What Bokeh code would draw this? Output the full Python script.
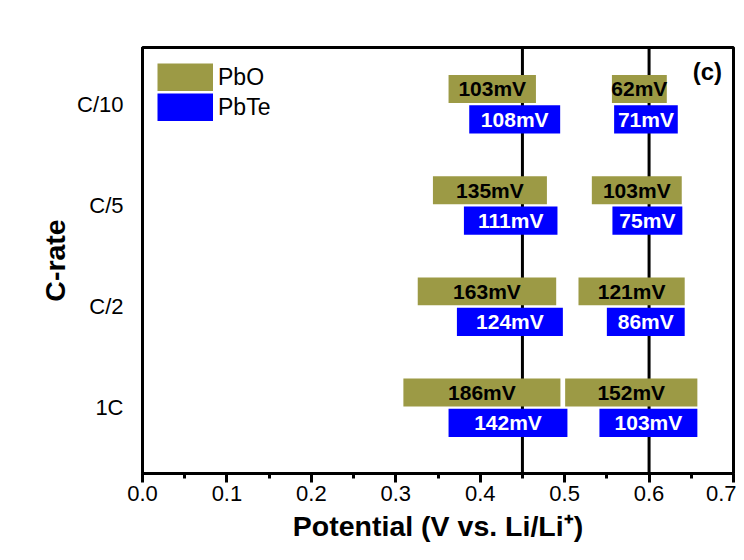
from bokeh.plotting import figure
from bokeh.models import ColumnDataSource, Span, Label, FixedTicker, Legend, LegendItem
from bokeh.core.properties import value
from bokeh.embed import file_html
from bokeh.resources import INLINE

# ---- data ----
rates = ["1C", "C/2", "C/5", "C/10"]
rate_pos = [1, 2, 3, 4]

pbo_low_start = [0.309, 0.326, 0.344, 0.3625]
pbo_low_end = [0.495, 0.490, 0.479, 0.466]
pbo_high_start = [0.5006, 0.5164, 0.5322, 0.556]
pbo_high_end = [0.6572, 0.6422, 0.6387, 0.621]
pbo_low_mv = [186, 163, 135, 103]
pbo_high_mv = [152, 121, 103, 62]

pbte_low_start = [0.3625, 0.3724, 0.3807, 0.387]
pbte_low_end = [0.5033, 0.4979, 0.4915, 0.4947]
pbte_high_start = [0.5412, 0.5500, 0.5566, 0.5586]
pbte_high_end = [0.6572, 0.6422, 0.6394, 0.634]
pbte_low_mv = [142, 124, 111, 108]
pbte_high_mv = [103, 86, 75, 71]

ref_lines = [0.45, 0.60]
x_ticks = [0.0, 0.1, 0.2, 0.3, 0.4, 0.5, 0.6, 0.7]
x_minor = [0.05, 0.15, 0.25, 0.35, 0.45, 0.55, 0.65]

OLIVE = "#9c9a45"
BLUE = "#0000ff"
FONT = "Liberation Sans"

# ---- build sources ----
def build(starts_a, ends_a, mv_a, starts_b, ends_b, mv_b, upper):
    left = list(starts_a) + list(starts_b)
    right = list(ends_a) + list(ends_b)
    ys = rate_pos + rate_pos
    if upper:
        bottom = [y + 0.012 for y in ys]
        top = [y + 0.288 for y in ys]
    else:
        bottom = [y - 0.290 for y in ys]
        top = [y - 0.011 for y in ys]
    labels = ["%dmV" % v for v in list(mv_a) + list(mv_b)]
    xc = [(l + r) / 2 for l, r in zip(left, right)]
    yc = [(b + t) / 2 for b, t in zip(bottom, top)]
    return ColumnDataSource(dict(left=left, right=right, bottom=bottom, top=top,
                                 label=labels, xc=xc, yc=yc))

src_pbo = build(pbo_low_start, pbo_low_end, pbo_low_mv,
                pbo_high_start, pbo_high_end, pbo_high_mv, True)
src_pbte = build(pbte_low_start, pbte_low_end, pbte_low_mv,
                 pbte_high_start, pbte_high_end, pbte_high_mv, False)

p = figure(width=736, height=552, x_range=(0, 0.7), y_range=(0.35, 4.56),
           output_backend="svg", toolbar_location=None,
           min_border_left=142, min_border_right=3, min_border_top=47,
           min_border_bottom=79)

p.xgrid.visible = False
p.ygrid.visible = False
p.outline_line_color = "black"
p.outline_line_width = 3
p.outline_line_alpha = 1.0
p.background_fill_color = "white"
p.border_fill_color = "white"

for loc in ref_lines:
    p.add_layout(Span(location=loc, dimension="height", line_color="black",
                      line_width=3, level="underlay"))

p.quad(left="left", right="right", bottom="bottom", top="top", source=src_pbo,
       fill_color=OLIVE, line_color=None)
p.quad(left="left", right="right", bottom="bottom", top="top", source=src_pbte,
       fill_color=BLUE, line_color=None)

p.text(x="xc", y="yc", text="label", source=src_pbo, text_color="black",
       text_font=value(FONT), text_font_style="bold", text_font_size="21px",
       text_align="center", text_baseline="middle")
p.text(x="xc", y="yc", text="label", source=src_pbte, text_color="white",
       text_font=value(FONT), text_font_style="bold", text_font_size="21px",
       text_align="center", text_baseline="middle")

p.add_layout(Label(x=0.669, y=4.325, text="(c)", text_font=FONT,
                   text_font_style="bold", text_font_size="24px",
                   text_color="black",
                   text_align="center", text_baseline="middle"))

# x axis
xa = p.xaxis[0]
xa.ticker = FixedTicker(ticks=x_ticks, minor_ticks=x_minor)
xa.major_label_overrides = {t: "%.1f" % t for t in x_ticks}
xa.axis_label = "Potential (V vs. Li/Li\u207a)"
xa.axis_label_text_font = FONT
xa.axis_label_text_font_style = "bold"
xa.axis_label_text_font_size = "28.5px"
xa.axis_label_text_color = "black"
xa.axis_label_standoff = 6
xa.major_label_text_font = FONT
xa.major_label_text_font_size = "22px"
xa.major_label_text_color = "black"
xa.major_label_standoff = 3
xa.axis_line_width = 3
xa.major_tick_line_width = 3
xa.minor_tick_line_width = 3
xa.major_tick_out = 9
xa.major_tick_in = 0
xa.minor_tick_out = 5
xa.minor_tick_in = 0

# y axis
ya = p.yaxis[0]
ya.ticker = FixedTicker(ticks=rate_pos, minor_ticks=[])
ya.major_label_overrides = {float(v): r for v, r in zip(rate_pos, rates)}
ya.axis_label = "C-rate"
ya.axis_label_text_font = FONT
ya.axis_label_text_font_style = "bold"
ya.axis_label_text_font_size = "28.5px"
ya.axis_label_text_color = "black"
ya.axis_label_standoff = 3
ya.major_label_text_font = FONT
ya.major_label_text_font_size = "22px"
ya.major_label_text_color = "black"
ya.major_label_standoff = 19
ya.axis_line_width = 3
ya.major_tick_line_color = None
ya.minor_tick_line_color = None
ya.major_tick_out = 0
ya.major_tick_in = 0

# legend: swatches drawn as thick butt-capped line keys (no inset);
# the key renderers sit outside the visible ranges so only their legend shows
key_pbo = p.line(x=[-1.0, -0.9], y=[-1.0, -1.0], line_color=OLIVE,
                 line_width=28, line_cap="butt")
key_pbte = p.line(x=[-1.0, -0.9], y=[-1.0, -1.0], line_color=BLUE,
                  line_width=28, line_cap="butt")
lg = Legend(items=[LegendItem(label="PbO", renderers=[key_pbo]),
                   LegendItem(label="PbTe", renderers=[key_pbte])],
            location=(15, 352))
lg.border_line_color = None
lg.background_fill_alpha = 0
lg.glyph_width = 56
lg.glyph_height = 28
lg.spacing = 2
lg.padding = 0
lg.margin = 0
lg.label_standoff = 5
lg.label_text_font = FONT
lg.label_text_font_size = "23px"
lg.label_text_color = "black"
p.add_layout(lg, "center")

open("out.html", "w").write(file_html(p, INLINE))
